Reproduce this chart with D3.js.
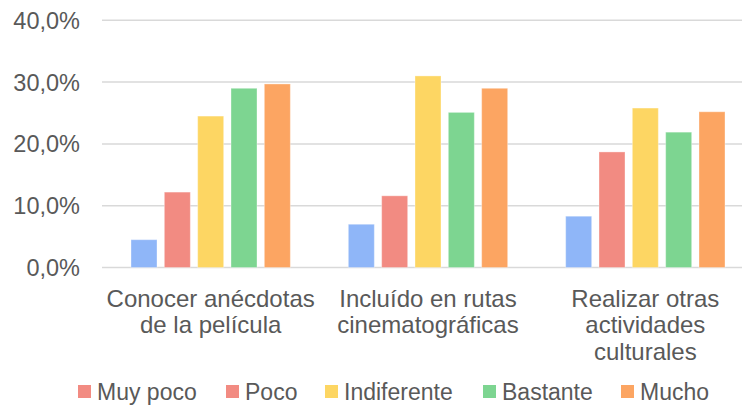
<!DOCTYPE html>
<html><head><meta charset="utf-8">
<script src="https://cdn.jsdelivr.net/npm/d3@7"></script>
<style>
html,body{margin:0;padding:0;background:#fff;}
svg text{font-family:"Liberation Sans",Arial,sans-serif;fill:#595959;}
</style></head>
<body>
<svg id="c" width="742" height="405"></svg>
<script>
const categories = ["Conocer anécdotas de la película", "Incluído en rutas cinematográficas", "Realizar otras actividades culturales"];
const categoryLines = [["Conocer anécdotas","de la película"],["Incluído en rutas","cinematográficas"],["Realizar otras","actividades","culturales"]];
const seriesNames = ["Muy poco","Poco","Indiferente","Bastante","Mucho"];
const muyPoco = [0.045, 0.070, 0.083];
const poco = [0.122, 0.116, 0.187];
const indiferente = [0.245, 0.310, 0.258];
const bastante = [0.290, 0.251, 0.219];
const mucho = [0.297, 0.290, 0.252];
const yTicks = [0, 0.1, 0.2, 0.3, 0.4];
const colors = ["#8fb6f8","#f28b82","#fdd663","#7dd591","#fca562"];
const legendColors = ["#f28b82","#f28b82","#fdd663","#7dd591","#fca562"];

const seriesValues = [muyPoco, poco, indiferente, bastante, mucho];
const svg = d3.select("#c");
const loc = d3.formatLocale({decimal:",", thousands:".", grouping:[3], currency:["","€"]});
const fmt = loc.format(".1%");

const x0 = d3.scaleBand().domain(categories).range([102, 754]).padding(0);
const x1 = d3.scaleBand().domain(seriesNames).range([0, x0.bandwidth()]).paddingInner(0.22).paddingOuter(0.87);
const y = d3.scaleLinear().domain([0, 0.4]).range([267.5, 20.3]);

// gridlines
svg.append("g").selectAll("line").data(yTicks).join("line")
  .attr("x1", 102).attr("x2", 754)
  .attr("y1", d => y(d)).attr("y2", d => y(d))
  .attr("stroke", "#d9d9d9").attr("stroke-width", 1.5);

// y labels
svg.append("g").selectAll("text").data(yTicks).join("text")
  .attr("x", 80).attr("y", d => y(d))
  .attr("dy", "0.36em").attr("text-anchor", "end")
  .style("font-size", "23.5px")
  .text(d => fmt(d));

// bars
categories.forEach((c, ci) => {
  const g = svg.append("g").attr("transform", `translate(${x0(c)},0)`);
  seriesNames.forEach((s, si) => {
    const v = seriesValues[si][ci];
    g.append("rect")
      .attr("x", x1(s)).attr("width", x1.bandwidth())
      .attr("y", y(v)).attr("height", y(0) - y(v))
      .attr("fill", colors[si])
      .attr("stroke", "rgba(255,255,255,0.35)").attr("stroke-width", 1);
  });
});

// x labels
categories.forEach((c, ci) => {
  const t = svg.append("text")
    .attr("x", x0(c) + x0.bandwidth()/2)
    .attr("y", 306.5)
    .attr("text-anchor", "middle")
    .style("font-size", "24px");
  categoryLines[ci].forEach((ln, li) => {
    t.append("tspan").attr("x", x0(c) + x0.bandwidth()/2).attr("dy", li === 0 ? 0 : 26.5).text(ln);
  });
});

// legend
const legendX = [78, 226, 325, 483, 621];
const lg = svg.append("g");
seriesNames.forEach((s, i) => {
  lg.append("rect").attr("x", legendX[i]).attr("y", 385).attr("width", 13).attr("height", 13).attr("fill", legendColors[i]);
  lg.append("text").attr("x", legendX[i] + 19).attr("y", 391.5).attr("dy", "0.36em")
    .style("font-size", "23px").text(s);
});
</script>
</body></html>
